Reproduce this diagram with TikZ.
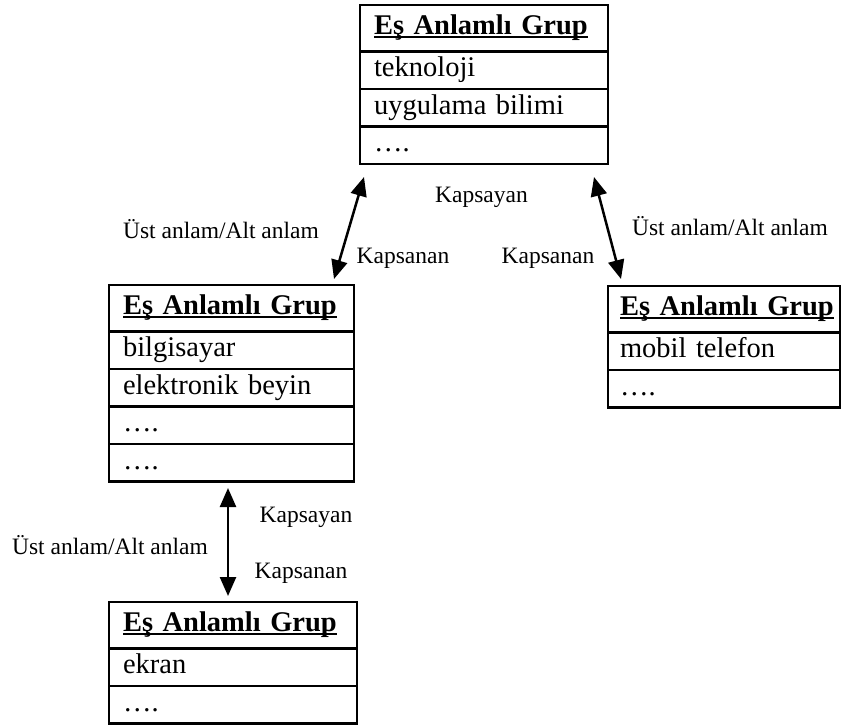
\documentclass[tikz,border=0pt]{standalone}
\usepackage{fontspec}
\setmainfont{Liberation Serif}
\usetikzlibrary{arrows.meta}
\newcommand\myul[1]{\setbox0\hbox{#1}\rlap{\rule[-3.6pt]{\wd0}{1.9pt}}\box0}
\tikzset{
  cell/.style={draw, line width=2.4pt, inner xsep=14pt, inner ysep=0pt, outer sep=0pt,
    text width=#1, align=left, minimum height=37.5pt,
    text height=20pt, text depth=7pt,
    font=\fontsize{28.5}{30}\selectfont, anchor=north west},
  hcell/.style={cell=#1, minimum height=46.5pt},
  lbl/.style={font=\fontsize{23.5}{25}\selectfont, inner sep=0pt},
  link/.style={line width=2.5pt, {Triangle[length=19pt,width=16pt]}-{Triangle[length=19pt,width=16pt]}}
}
\begin{document}
\begin{tikzpicture}[x=1pt,y=-1pt]
\useasboundingbox (0,0) rectangle (845,724);
% top box
\node[hcell=220pt] (t0) at (360,5) {\mbox{\bfseries\myul{Eş Anlamlı Grup}}};
\node[cell=220pt] (t1) at (t0.south west) {teknoloji};
\node[cell=220pt] (t2) at (t1.south west) {uygulama bilimi};
\node[cell=220pt] (t3) at (t2.south west) {….};
% left box
\node[hcell=217pt] (l0) at (109,285) {\mbox{\bfseries\myul{Eş Anlamlı Grup}}};
\node[cell=217pt] (l1) at (l0.south west) {bilgisayar};
\node[cell=217pt] (l2) at (l1.south west) {elektronik beyin};
\node[cell=217pt] (l3) at (l2.south west) {….};
\node[cell=217pt] (l4) at (l3.south west) {….};
% right box
\node[hcell=208pt, inner xsep=12pt] (r0) at (608,286) {\mbox{\bfseries\myul{Eş Anlamlı Grup}}};
\node[cell=208pt, inner xsep=12pt] (r1) at (r0.south west) {mobil telefon};
\node[cell=208pt, inner xsep=12pt] (r2) at (r1.south west) {….};
% bottom box
\node[hcell=220pt] (b0) at (109,602) {\mbox{\bfseries\myul{Eş Anlamlı Grup}}};
\node[cell=220pt] (b1) at (b0.south west) {ekran};
\node[cell=220pt] (b2) at (b1.south west) {….};
% connector ends
\coordinate (la) at (364,177);
\coordinate (lb) at (334,279);
\coordinate (ra) at (594,177);
\coordinate (rb) at (621,279);
\coordinate (va) at (228,488);
\coordinate (vb) at (228,596);
\draw[link] (la) -- (lb);
\draw[link] (ra) -- (rb);
\draw[link] (va) -- (vb);
% labels
\node[lbl] (k1) at (481.5,197) {Kapsayan};
\node[lbl] (u1) at (221,229) {Üst anlam/Alt anlam};
\node[lbl] (s1) at (403,258) {Kapsanan};
\node[lbl] (s2) at (548,258) {Kapsanan};
\node[lbl] (u2) at (730,226) {Üst anlam/Alt anlam};
\node[lbl] (k2) at (306,517) {Kapsayan};
\node[lbl] (u3) at (110,545) {Üst anlam/Alt anlam};
\node[lbl] (s3) at (301,573) {Kapsanan};
\end{tikzpicture}
\end{document}
